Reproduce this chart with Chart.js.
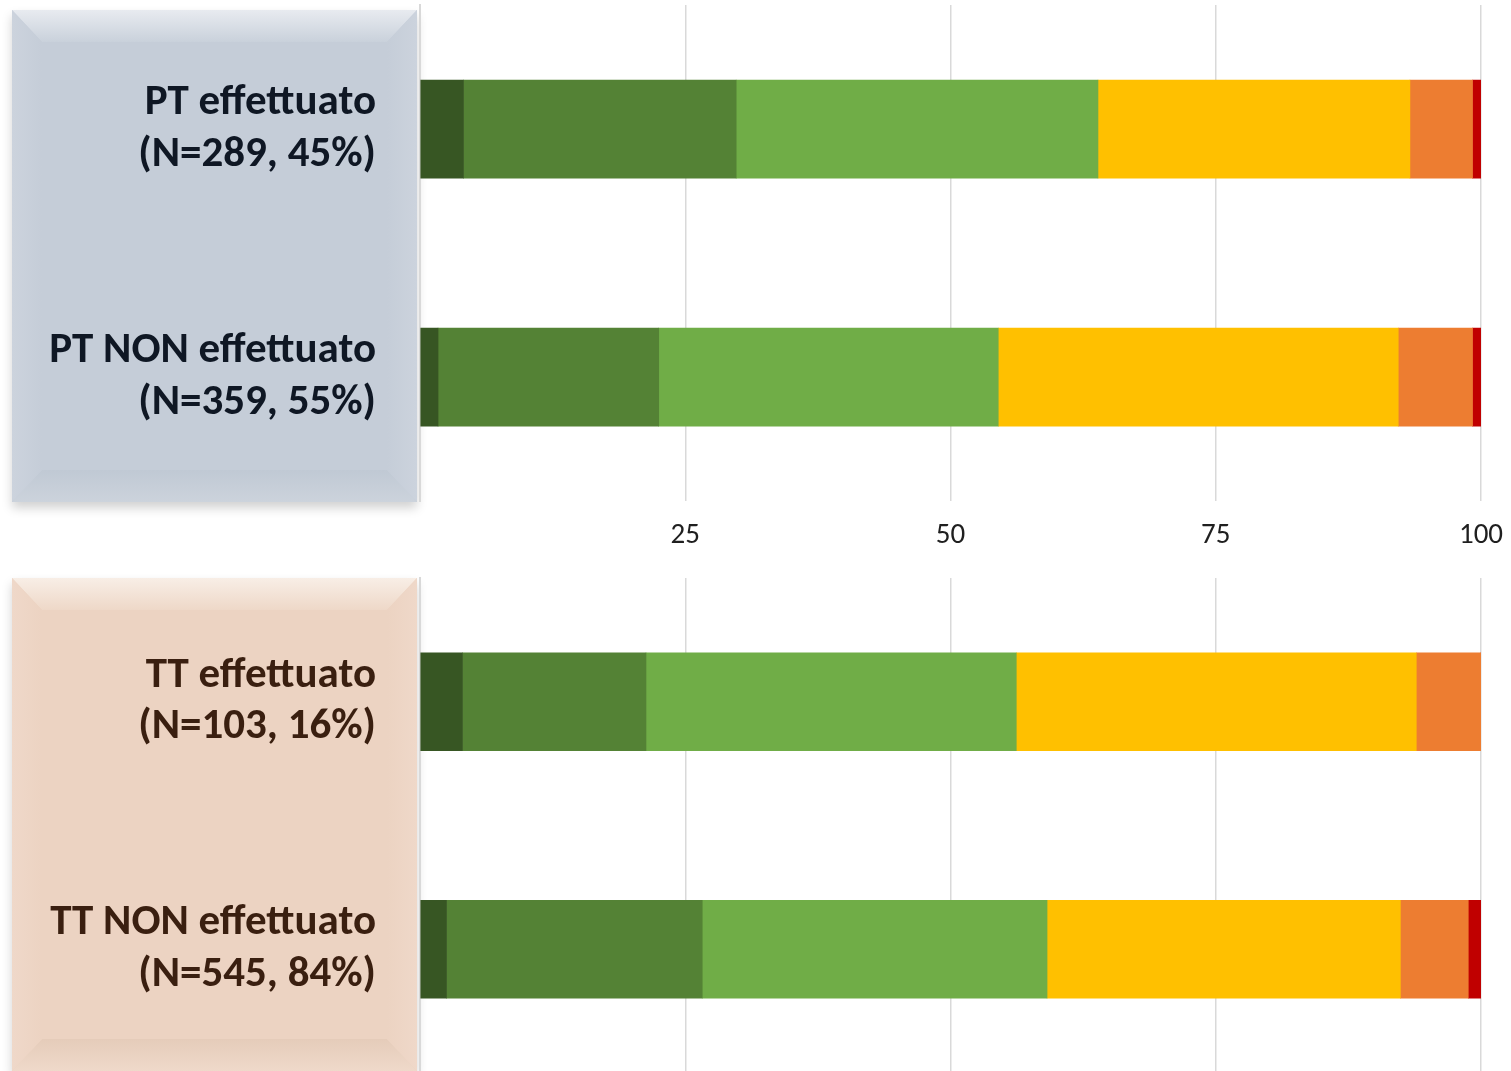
<!DOCTYPE html>
<html>
<head>
<meta charset="utf-8">
<script src="https://cdn.jsdelivr.net/npm/chart.js@4/dist/chart.umd.min.js"></script>
<style>
  html, body { margin: 0; padding: 0; background: #fff; overflow: hidden; }
  body { width: 1511px; height: 1071px; position: relative; }
  .box { position: absolute; left: 12px; width: 405px; }
  .box div { position: absolute; }
  .box .top { left: 0; right: 0; top: 0; height: 32px; clip-path: polygon(0 0, 100% 0, calc(100% - 30px) 100%, 30px 100%); }
  .box .bot { left: 0; right: 0; bottom: 0; height: 32px; clip-path: polygon(30px 0, calc(100% - 30px) 0, 100% 100%, 0 100%); }
  .box .lft { left: 0; top: 0; bottom: 0; width: 30px; clip-path: polygon(0 0, 100% 32px, 100% calc(100% - 32px), 0 100%); }
  .box .rgt { right: 0; top: 0; bottom: 0; width: 30px; clip-path: polygon(0 32px, 100% 0, 100% 100%, 0 calc(100% - 32px)); }
  #boxPT { top: 10px; height: 492px; background: #c5cdd8; box-shadow: 0 6px 10px rgba(0,0,0,0.18); }
  #boxPT .top { background: linear-gradient(to bottom, #e8ebf0, #c9d1db); }
  #boxPT .bot { background: linear-gradient(to top, #ccd3dc, #c0c9d4); }
  #boxPT .lft { background: linear-gradient(to right, #ccd3dd, #c5cdd8); }
  #boxPT .rgt { background: linear-gradient(to left, #ccd3dd, #c5cdd8); }
  #boxTT { top: 578px; height: 493px; background: #ecd3c2; box-shadow: 0 6px 10px rgba(0,0,0,0.18); }
  #boxTT .top { background: linear-gradient(to bottom, #f8eee6, #eed8c8); }
  #boxTT .bot { background: linear-gradient(to top, #efd9ca, #e5ccba); }
  #boxTT .lft { background: linear-gradient(to right, #efd8c9, #ecd3c2); }
  #boxTT .rgt { background: linear-gradient(to left, #efd8c9, #ecd3c2); }
  .wrap { position: absolute; left: 0; width: 1511px; }
  #wrapPT { top: 0; height: 570px; }
  #wrapTT { top: 573px; height: 500px; }
</style>
</head>
<body>
<div class="box" id="boxPT"><div class="top"></div><div class="bot"></div><div class="lft"></div><div class="rgt"></div></div>
<div class="box" id="boxTT"><div class="top"></div><div class="bot"></div><div class="lft"></div><div class="rgt"></div></div>
<div class="wrap" id="wrapPT"><canvas id="chartPT"></canvas></div>
<div class="wrap" id="wrapTT"><canvas id="chartTT"></canvas></div>
<script>
// Categories (y-axis labels)
const labelsPT = [['PT effettuato', '(N=289, 45%)'], ['PT NON effettuato', '(N=359, 55%)']];
const labelsTT = [['TT effettuato', '(N=103, 16%)'], ['TT NON effettuato', '(N=545, 84%)']];

// Percentages per row, one value per class (dark green -> red)
const ptEffettuato    = [4.1, 25.7, 34.1, 29.4, 5.9, 0.8];
const ptNonEffettuato = [1.7, 20.8, 32.0, 37.7, 7.0, 0.8];
const ttEffettuato    = [4.0, 17.3, 34.9, 37.7, 6.1, 0.0];
const ttNonEffettuato = [2.5, 24.1, 32.5, 33.3, 6.4, 1.2];

const classNames  = ['Classe 1', 'Classe 2', 'Classe 3', 'Classe 4', 'Classe 5', 'Classe 6'];
const classColors = ['#375623', '#548235', '#70ad47', '#ffc000', '#ed7d31', '#c00000'];

// X axis ticks
const xTicks = [0, 25, 50, 75, 100];

const labelFont = '"Carlito", Lato, sans-serif';

function buildDatasets(rowA, rowB) {
  return classNames.map((name, i) => ({
    label: name,
    data: [rowA[i], rowB[i]],
    backgroundColor: classColors[i],
    borderWidth: 0,
    barThickness: 98
  }));
}

function makeChart(id, labels, rowA, rowB, textColor, showTicks, padTop) {
  return new Chart(document.getElementById(id), {
    type: 'bar',
    data: { labels: labels, datasets: buildDatasets(rowA, rowB) },
    options: {
      indexAxis: 'y',
      responsive: true,
      maintainAspectRatio: false,
      animation: false,
      layout: { padding: { top: padTop, right: 30, left: 0, bottom: 0 } },
      plugins: { legend: { display: false }, tooltip: { enabled: false } },
      scales: {
        x: {
          stacked: true,
          min: 0,
          max: 100,
          afterBuildTicks: (scale) => { scale.ticks = xTicks.map(v => ({ value: v })); },
          afterFit: (scale) => { scale.paddingLeft = 0; scale.paddingRight = 0; },
          grid: { color: '#d9d9d9', lineWidth: 1.5, drawTicks: false },
          border: { display: false },
          ticks: {
            display: showTicks,
            padding: 17,
            color: '#1f1f1f',
            font: { family: '"Liberation Sans Narrow", ' + labelFont, size: 29 },
            callback: (v) => v === 0 ? '' : v
          }
        },
        y: {
          stacked: true,
          afterFit: (scale) => { scale.width = 420; scale.paddingTop = 0; scale.paddingBottom = 0; },
          grid: { display: false, drawTicks: false },
          border: { display: true, color: '#d9d9d9', width: 2 },
          ticks: {
            padding: 44,
            color: textColor,
            font: { family: labelFont, size: 43, weight: 'bold', lineHeight: 1.2 }
          }
        }
      }
    }
  });
}

makeChart('chartPT', labelsPT, ptEffettuato, ptNonEffettuato, '#0f1724', true, 5);
makeChart('chartTT', labelsTT, ttEffettuato, ttNonEffettuato, '#3a1f10', false, 5);
</script>
</body>
</html>
